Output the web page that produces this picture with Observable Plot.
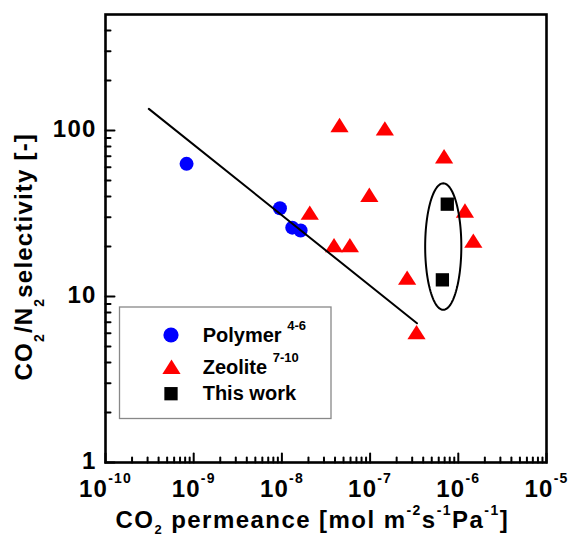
<!DOCTYPE html>
<html><head><meta charset="utf-8">
<script src="https://cdn.jsdelivr.net/npm/d3@7"></script>
<script src="https://cdn.jsdelivr.net/npm/@observablehq/plot@0.6"></script>
<style>body{margin:0;background:#fff} svg{display:block}</style>
</head><body><div id="chart"></div>
<script>
// ---- data ----
const polymerX = [8.3e-10, 9.5e-9, 1.31e-8, 1.63e-8];
const polymerY = [63, 34, 26, 25];
const zeoliteX = [4.5e-8, 1.47e-7, 6.9e-7, 9.8e-8, 2.07e-8, 1.19e-6, 1.48e-6, 3.9e-8, 5.9e-8, 2.63e-7, 3.36e-7];
const zeoliteY = [108, 103, 70, 41, 32, 33, 21.7, 20.4, 20.4, 13, 6.1];
const thisWorkX = [7.5e-7, 6.6e-7];
const thisWorkY = [36, 12.6];
const trendX = [3.1e-10, 3.4e-7];
const trendY = [135, 6.9];
const ellipseCenter = [6.75e-7, 20];
const ellipseRadiusDecades = [0.205, 0.381];
const xTickExponents = [-10, -9, -8, -7, -6, -5];
const yTickValues = [1, 10, 100];
const minorMultipliers = [2, 3, 4, 5, 6, 7, 8, 9];
const xLabel = "CO_{2} permeance [mol m^{-2}s^{-1}Pa^{-1}]";
const yLabel = "CO_{2}/N_{2}selectivity [-]";
const legendLabels = ["Polymer ^{4-6}", "Zeolite ^{7-10}", "This work"];
const seriesColors = ["#0000ff", "#ff0000", "#000000"];

// ---- tables ----
const polymer = polymerX.map((x, i) => ({x, y: polymerY[i]}));
const zeolite = zeoliteX.map((x, i) => ({x, y: zeoliteY[i]}));
const thisWork = thisWorkX.map((x, i) => ({x, y: thisWorkY[i]}));
const trend = trendX.map((x, i) => ({x, y: trendY[i]}));
const ellipse = d3.range(0, 360, 3).map(a => {
  const t = a * Math.PI / 180;
  return {x: 10 ** (Math.log10(ellipseCenter[0]) + ellipseRadiusDecades[0] * Math.cos(t)),
          y: 10 ** (Math.log10(ellipseCenter[1]) + ellipseRadiusDecades[1] * Math.sin(t))};
});
const xMajor = xTickExponents.map(e => 10 ** e);
const xMinor = xTickExponents.slice(0, -1).flatMap(e => minorMultipliers.map(m => m * 10 ** e));
const yMinor = [1, 10, 100].flatMap(d => minorMultipliers.map(m => m * d)).filter(v => v < 500);

// ---- symbols ----
const triSymbol = {draw(ctx, size) { const r = Math.sqrt(size / Math.PI); const w = r * 1.3, h = r * 1.03;
  ctx.moveTo(0, -h); ctx.lineTo(w, h); ctx.lineTo(-w, h); ctx.closePath(); }};
const sqSymbol = {draw(ctx, size) { const r = Math.sqrt(size / Math.PI) * 0.95;
  ctx.rect(-r, -r, 2 * r, 2 * r); }};
const tickShape = {draw(ctx, l) { ctx.moveTo(0, 0); ctx.lineTo(0, -l); }};

const FONT = "'Liberation Sans', Arial, sans-serif";
const LS = "1.2px";

const chart = Plot.plot({
  width: 569, height: 538,
  marginLeft: 105, marginRight: 23, marginTop: 14, marginBottom: 76,
  style: {background: "white", fontFamily: FONT, overflow: "visible"},
  x: {type: "log", domain: [1e-10, 1e-5], axis: null},
  y: {type: "log", domain: [1, 500], axis: null},
  marks: [
    Plot.dot(polymer, {x: "x", y: "y", r: 7, fill: seriesColors[0], symbol: "circle"}),
    Plot.dot(zeolite, {x: "x", y: "y", r: 7, fill: seriesColors[1], symbol: triSymbol}),
    Plot.dot(thisWork, {x: "x", y: "y", r: 7, fill: seriesColors[2], symbol: sqSymbol}),
    Plot.line(ellipse, {x: "x", y: "y", curve: "linear-closed", stroke: "black", strokeWidth: 2}),
    Plot.line(trend, {x: "x", y: "y", stroke: "black", strokeWidth: 2}),
    Plot.vector(xMajor, {x: d => d, frameAnchor: "bottom", length: 9, rotate: 0, anchor: "start", shape: tickShape, stroke: "black", strokeWidth: 2}),
    Plot.vector(xMinor, {x: d => d, frameAnchor: "bottom", length: 5, rotate: 0, anchor: "start", shape: tickShape, stroke: "black", strokeWidth: 2}),
    Plot.vector(yTickValues, {y: d => d, frameAnchor: "left", length: 9, rotate: 90, anchor: "start", shape: tickShape, stroke: "black", strokeWidth: 2}),
    Plot.vector(yMinor, {y: d => d, frameAnchor: "left", length: 5, rotate: 90, anchor: "start", shape: tickShape, stroke: "black", strokeWidth: 2}),
    Plot.text(yTickValues, {y: d => d, frameAnchor: "left", dx: -9, dy: -1.5, textAnchor: "end", text: d => String(d), fontSize: 24, fontWeight: "bold", fill: "black"}),
    Plot.text(xTickExponents, {x: d => 10 ** d, frameAnchor: "bottom", dy: 17.6, lineAnchor: "top", text: d => `10^{${d}}`, fontSize: 24, fontWeight: "bold", fill: "black"}),
    Plot.text([xLabel], {frameAnchor: "bottom-left", dx: 10, dy: 65, lineAnchor: "bottom", textAnchor: "start", text: d => d, fontSize: 24, fontWeight: "bold", fill: "black"}),
    Plot.text([yLabel], {frameAnchor: "bottom-left", dx: -73.3, dy: -82, rotate: -90, lineAnchor: "bottom", textAnchor: "start", text: d => d, fontSize: 24, fontWeight: "bold", fill: "black"}),
    Plot.frame({stroke: "black", strokeWidth: 2.6})
  ]
});

function rich(sel, {supSize, supShift, subSize, subShift}) {
  sel.each(function () {
    const t = d3.select(this);
    const s = this.textContent;
    t.text(null);
    const parts = s.split(/(\^\{[^}]*\}|_\{[^}]*\})/).filter(p => p !== "");
    let offset = 0;
    for (const p of parts) {
      let target = 0, size = null, content = p;
      if (p.startsWith("^{")) { target = -supShift; size = supSize; content = p.slice(2, -1); }
      else if (p.startsWith("_{")) { target = subShift; size = subSize; content = p.slice(2, -1); }
      const ts = t.append("tspan").text(content);
      if (target - offset !== 0) ts.attr("dy", target - offset);
      if (size) ts.attr("font-size", size);
      offset = target;
    }
  });
}

const svg = d3.select(chart);
const plotTexts = svg.selectAll("text");
plotTexts.style("letter-spacing", LS);
const xLabelText = plotTexts.filter(function () { return this.textContent === xLabel; });
xLabelText.style("letter-spacing", "1.45px");
rich(xLabelText, {supSize: 14, supShift: 13, subSize: 13, subShift: 6.5});
rich(plotTexts.filter(function () { return /[\^_]\{/.test(this.textContent); }),
     {supSize: 14, supShift: 14.5, subSize: 14, subShift: 12});

// ---- legend ----
const lg = svg.append("g").attr("font-family", FONT).attr("font-weight", "bold").attr("text-anchor", "start");
lg.append("rect").attr("x", 119.5).attr("y", 307).attr("width", 211.5).attr("height", 111.5)
  .attr("fill", "white").attr("stroke", "#888").attr("stroke-width", 1.3);
const symSize = Math.PI * 49;
const legendSyms = [null, triSymbol, sqSymbol];
const legendPos = [[171, 335, 341.7], [171.5, 366.7, 374], [171, 393.7, 400]];
legendLabels.forEach((lab, i) => {
  const [sx, sy, by] = legendPos[i];
  if (i === 0) lg.append("circle").attr("cx", sx).attr("cy", sy).attr("r", 7.6).attr("fill", seriesColors[i]);
  else lg.append("path").attr("d", d3.symbol(legendSyms[i], symSize)()).attr("transform", `translate(${sx},${sy})`).attr("fill", seriesColors[i]);
  const t = lg.append("text").attr("x", 202.7).attr("y", by).attr("font-size", 20).attr("fill", "black").text(lab);
  rich(t, {supSize: 13, supShift: 11.7, subSize: 13, subShift: 8});
});

document.getElementById("chart").append(chart);
</script>
</body></html>
